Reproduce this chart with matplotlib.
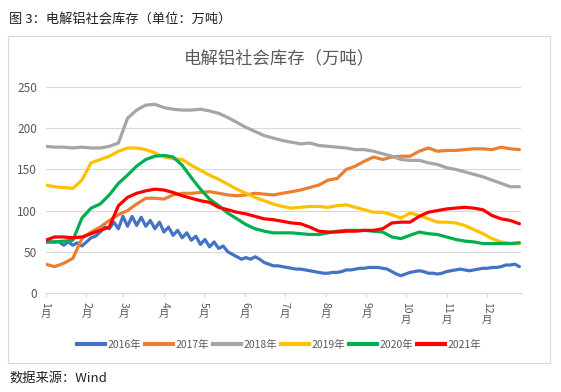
import numpy as np
import matplotlib
matplotlib.use("Agg")
import matplotlib.pyplot as plt
from matplotlib.patches import Rectangle
from matplotlib.lines import Line2D

plt.rcParams['font.family'] = ['Noto Sans CJK SC', 'DejaVu Sans']

# ---------------- data ----------------
series_names = ["2016年", "2017年", "2018年", "2019年", "2020年", "2021年"]
series_colors = ["#4472C4", "#ED7D31", "#A5A5A5", "#FFC000", "#00B050", "#FF0000"]

month_labels = ["1", "2", "3", "4", "5", "6", "7", "8", "9", "10", "11", "12"]
month_start_day = [0, 31, 59, 90, 120, 151, 181, 212, 243, 273, 304, 334]
y_ticks = [0, 50, 100, 150, 200, 250]

# 2016 (sampled twice a week)
v2016 = [62, 62, 62, 62, 58, 62, 58, 61, 57, 62, 67, 69, 74, 80, 78,
         86, 78, 93, 81, 93, 82, 92, 81, 88, 78, 86, 74, 80, 70, 76,
         67, 73, 64, 69, 59, 65, 56, 62, 54, 57, 50, 47, 44, 41, 43,
         41, 44, 41, 37, 35, 33, 33, 32, 31, 30, 29, 29, 28, 27, 26,
         25, 24, 24, 25, 25, 26, 28, 28, 29, 30, 30, 31, 31, 31, 30,
         29, 26, 23, 21, 23, 25, 26, 27, 26, 24, 24, 23, 24, 26, 27,
         28, 29, 28, 27, 28, 29, 30, 30, 31, 31, 32, 34, 34, 35, 32]
# weekly series
v2017 = [35, 32, 36, 42, 66, 74, 80, 88, 95, 100, 108, 115, 115, 114, 119,
         121, 121, 122, 123, 121, 119, 118, 119, 121, 120, 119, 121, 123, 125, 128,
         131, 137, 139, 150, 154, 160, 165, 162, 165, 166, 166, 172, 176, 172, 173,
         173, 174, 175, 175, 174, 177, 175, 174]
v2018 = [178, 177, 177, 176, 177, 176, 176, 178, 182, 212, 222, 228, 229, 225, 223,
         222, 222, 223, 221, 218, 213, 207, 201, 196, 191, 188, 185, 183, 181, 182,
         179, 178, 177, 176, 174, 174, 172, 169, 166, 162, 161, 161, 158, 156, 152,
         150, 147, 144, 141, 137, 133, 129, 129]
v2019 = [131, 129, 128, 127, 137, 158, 162, 166, 172, 176, 176, 174, 170, 165, 163,
         162, 155, 149, 143, 138, 132, 126, 121, 116, 112, 108, 105, 103, 104, 105,
         105, 104, 106, 107, 104, 101, 98, 98, 95, 91, 97, 94, 90, 86, 86,
         85, 82, 77, 72, 66, 62, 60, 60]
v2020 = [62, 62, 63, 64, 91, 103, 108, 119, 133, 143, 154, 162, 166, 167, 165,
         155, 140, 126, 114, 106, 97, 90, 83, 78, 75, 73, 73, 73, 72, 71,
         71, 73, 75, 76, 76, 76, 75, 74, 68, 66, 70, 74, 72, 71, 68,
         65, 63, 62, 60, 60, 60, 60, 61]
v2021 = [64, 68, 68, 67, 68, 72, 76, 80, 106, 116, 121, 124, 126, 125, 122,
         118, 115, 112, 110, 104, 101, 98, 96, 93, 90, 89, 87, 85, 84, 80,
         75, 74, 74, 75, 75, 76, 76, 78, 85, 86, 86, 93, 98, 100, 102,
         103, 104, 103, 101, 94, 90, 88, 84]

# x positions in day-of-year
x_week = np.arange(len(v2017)) * 6.9
x_half = np.arange(len(v2016)) * 3.45
series_values = [v2016, v2017, v2018, v2019, v2020, v2021]
series_x = [x_half, x_week, x_week, x_week, x_week, x_week]

# ---------------- figure ----------------
W, H = 561, 392
fig = plt.figure(figsize=(W / 100, H / 100), dpi=100)

def fx(px):
    return px / W

def fy(py):
    return 1 - py / H

# outer frame
fig.patches.append(Rectangle((fx(8), fy(363)), fx(550) - fx(8), fy(36) - fy(363),
                             transform=fig.transFigure, fill=False,
                             edgecolor="#D9D9D9", linewidth=0.8))

fig.text(fx(9), fy(20), "图 3：电解铝社会库存（单位：万吨）", fontsize=9.5,
         color="#222222", ha="left", va="center")
fig.text(fx(9), fy(378), "数据来源：Wind", fontsize=9.5,
         color="#222222", ha="left", va="center")
fig.text(fx(279), fy(58), "电解铝社会库存（万吨）", fontsize=12.5,
         color="#595959", ha="center", va="center")

ax_left, ax_right, ax_top, ax_bottom = 45.5, 521, 87, 293
ax = fig.add_axes([fx(ax_left), fy(ax_bottom), fx(ax_right) - fx(ax_left),
                   fy(ax_top) - fy(ax_bottom)])
ax.set_xlim(0, 360)
ax.set_ylim(0, 250)

for xs, vals, col, name in zip(series_x, series_values, series_colors, series_names):
    ax.plot(xs, vals, color=col, linewidth=2.3, solid_joinstyle="round",
            solid_capstyle="round", label=name, zorder=3)

ax.set_yticks(y_ticks)
ax.set_yticklabels([str(v) for v in y_ticks], fontsize=8.5, color="#595959")
ax.tick_params(axis="y", length=0, pad=6)
ax.yaxis.grid(True, color="#D9D9D9", linewidth=0.8)
ax.set_axisbelow(True)

for s in ["left", "right", "top"]:
    ax.spines[s].set_visible(False)
ax.spines["bottom"].set_color("#D9D9D9")
ax.spines["bottom"].set_linewidth(0.8)

ax.set_xticks(month_start_day)
ax.set_xticklabels([])
ax.tick_params(axis="x", length=3, color="#D9D9D9", width=0.8)

# vertical month labels: digits rotated, 月 upright
for d, lab in zip(month_start_day, month_labels):
    ax.annotate(lab, xy=(d, 0), xycoords=("data", "axes fraction"),
                xytext=(0, -9 * 0.72), textcoords="offset points",
                rotation=-90, ha="center", va="top", fontsize=7.5,
                color="#595959")
    off = 10.5 + 5.5 * len(lab)
    ax.annotate("月", xy=(d, 0), xycoords=("data", "axes fraction"),
                xytext=(0, -off * 0.72), textcoords="offset points",
                ha="center", va="top", fontsize=7.5, color="#595959")

handles = [Line2D([0], [0], color=c, linewidth=3) for c in series_colors]
leg = fig.legend(handles, series_names, loc="center", bbox_to_anchor=(fx(279), fy(345)),
                 ncol=6, frameon=False, fontsize=7.5, handlelength=2.7,
                 handletextpad=0.2, columnspacing=0.4, borderaxespad=0)
for t in leg.get_texts():
    t.set_color("#595959")

fig.savefig("out.png", dpi=100)
